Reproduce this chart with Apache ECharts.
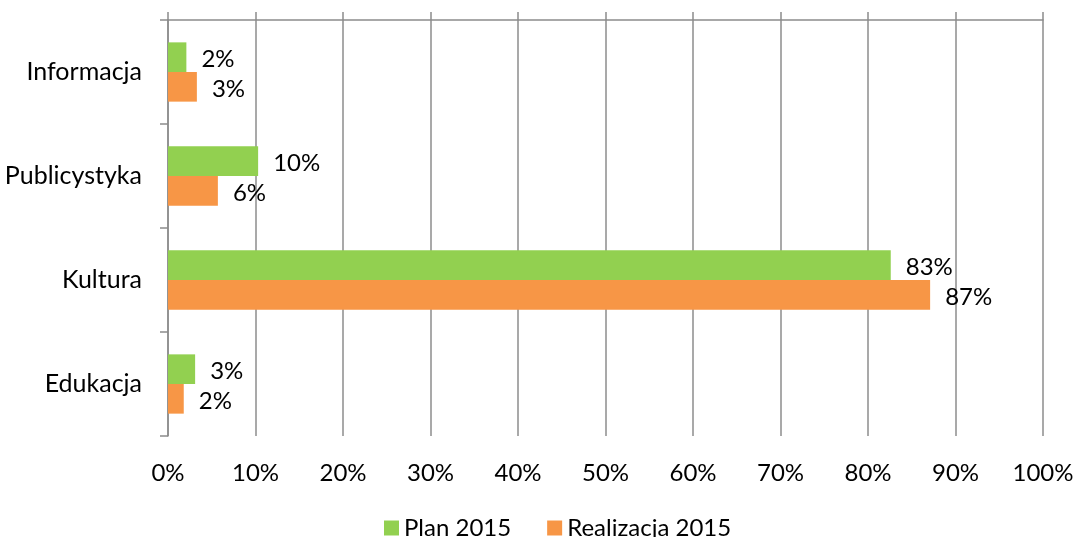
<!DOCTYPE html>
<html>
<head>
<meta charset="utf-8">
<script src="https://cdn.jsdelivr.net/npm/echarts@6/dist/echarts.min.js"></script>
<style>html,body{margin:0;padding:0;background:#fff}#c{width:1080px;height:537px}</style>
</head>
<body>
<div id="c"></div>
<script>
const categories = ['Informacja', 'Publicystyka', 'Kultura', 'Edukacja'];
const planValues = [2.1, 10.3, 82.6, 3.1];
const realValues = [3.3, 5.7, 87.1, 1.8];
const seriesNames = ['Plan 2015', 'Realizacja 2015'];
const xTicks = [0, 10, 20, 30, 40, 50, 60, 70, 80, 90, 100];

const FONT = 'Lato';
const FS = 24;
const gray = '#8c8c8c';
const chart = echarts.init(document.getElementById('c'));
const lbl = {
  show: true, position: 'right', distance: 15, color: '#000',
  fontFamily: FONT, fontSize: FS, offset: [0, 2],
  formatter: p => Math.round(p.value) + '%'
};
chart.setOption({
  animation: false,
  grid: { left: 168, right: 37, top: 20, bottom: 101, containLabel: false },
  legend: {
    bottom: -8, left: 379, itemWidth: 15, itemHeight: 15, itemGap: 36,
    icon: 'rect',
    textStyle: { fontFamily: FONT, fontSize: FS, color: '#000' },
    data: seriesNames
  },
  xAxis: [{
    type: 'value', position: 'top', min: 0, max: 100, interval: 10,
    axisLine: { show: true, lineStyle: { color: gray, width: 1.5 } },
    axisTick: { show: true, length: 8, lineStyle: { color: gray, width: 1.5 } },
    axisLabel: { show: false },
    splitLine: { show: true, lineStyle: { color: gray, width: 1.5 } }
  }, {
    type: 'value', position: 'bottom', min: 0, max: 100, interval: 10,
    axisLine: { show: false }, axisTick: { show: false },
    splitLine: { show: false },
    axisLabel: {
      margin: 25, color: '#000', fontFamily: FONT, fontSize: FS,
      formatter: v => xTicks.includes(v) ? v + '%' : ''
    }
  }],
  yAxis: {
    type: 'category', inverse: true, data: categories,
    axisLine: { show: true, lineStyle: { color: gray, width: 1.5 } },
    axisTick: { show: true, length: 8, lineStyle: { color: gray, width: 1.5 } },
    axisLabel: { margin: 26, color: '#000', fontFamily: FONT, fontSize: 25 },
    splitLine: { show: false }
  },
  series: [{
    name: seriesNames[0], type: 'bar', data: planValues, xAxisIndex: 0,
    barGap: '0%', barCategoryGap: '43%',
    itemStyle: { color: '#92D050' }, label: lbl
  }, {
    name: seriesNames[1], type: 'bar', data: realValues, xAxisIndex: 0,
    barGap: '0%', barCategoryGap: '43%',
    itemStyle: { color: '#F79646' }, label: lbl
  }]
});
</script>
</body>
</html>
